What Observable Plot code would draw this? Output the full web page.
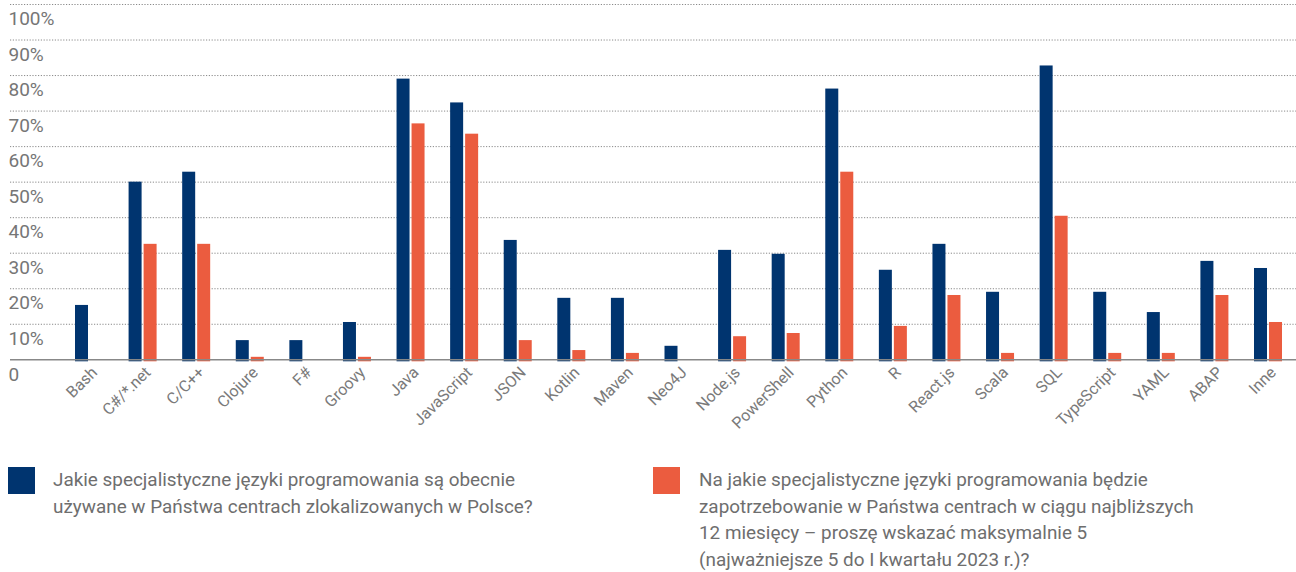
<!DOCTYPE html>
<html>
<head>
<meta charset="utf-8">
<script src="https://cdn.jsdelivr.net/npm/d3@7"></script>
<script src="https://cdn.jsdelivr.net/npm/@observablehq/plot@0.6"></script>
<style>
  html, body { margin: 0; padding: 0; background: #fff; }
  #wrap { position: relative; width: 1296px; height: 572px; font-family: Roboto, "Noto Sans", sans-serif; }
  #chart { position: absolute; left: 0; top: 0; }
  .sw { position: absolute; width: 27px; height: 27px; }
  .lt { position: absolute; font-size: 18.9px; line-height: 26.7px; color: #6e6e6e; white-space: nowrap; }
</style>
</head>
<body>
<div id="wrap">
  <div id="chart"></div>
</div>
<script>
const categories = ["Bash","C#/*.net","C/C++","Clojure","F#","Groovy","Java","JavaScript","JSON","Kotlin","Maven","Neo4J","Node.js","PowerShell","Python","R","React.js","Scala","SQL","TypeScript","YAML","ABAP","Inne"];
const current = [15.3,50.0,52.8,5.4,5.4,10.5,79.0,72.3,33.6,17.3,17.3,3.8,30.8,29.7,76.2,25.2,32.5,19.0,82.7,19.0,13.3,27.7,25.7];
const future  = [0,32.5,32.5,0.7,0,0.7,66.4,63.5,5.4,2.6,1.8,0,6.5,7.4,52.8,9.4,18.1,1.8,40.4,1.8,1.8,18.1,10.5];
const yTicks = [10,20,30,40,50,60,70,80,90,100];
const yTickLabels = ["10%","20%","30%","40%","50%","60%","70%","80%","90%","100%"];
const seriesNames = [
  "Jakie specjalistyczne języki programowania są obecnie<br>używane w Państwa centrach zlokalizowanych w Polsce?",
  "Na jakie specjalistyczne języki programowania będzie<br>zapotrzebowanie w Państwa centrach w ciągu najbliższych<br>12 miesięcy – proszę wskazać maksymalnie 5<br>(najważniejsze 5 do I kwartału 2023 r.)?"
];
const colors = ["#00346F", "#EB5C3F"];

const rowsA = categories.map((c, i) => ({cat: c, v: current[i]}));
const rowsB = categories.map((c, i) => ({cat: c, v: future[i]})).filter(d => d.v > 0);
const tickRows = yTicks.map((t, i) => ({t, label: yTickLabels[i]}));

const chart = Plot.plot({
  width: 1296,
  height: 440,
  marginLeft: 10,
  marginRight: 0,
  marginTop: 4,
  marginBottom: 80.7,
  style: {fontFamily: "Roboto, 'Noto Sans', sans-serif", background: "transparent"},
  x: {domain: categories, range: [75, 1282], paddingInner: 0.4775, paddingOuter: 0, round: false, axis: null},
  y: {domain: [0, 100], axis: null},
  marks: [
    Plot.ruleY(yTicks, {stroke: "#8a8a8a", strokeWidth: 1, strokeDasharray: "1.2,1.6"}),
    Plot.text(tickRows, {y: "t", text: "label", frameAnchor: "left", dx: -2, dy: 14.5, textAnchor: "start", fontSize: 19, fill: "#767676"}),
    Plot.text(["0"], {y: () => 0, text: d => d, frameAnchor: "left", dx: -2, dy: 15, textAnchor: "start", fontSize: 19, fill: "#767676"}),
    Plot.barY(rowsA, {x: "cat", y: "v", fill: colors[0], insetRight: 15, insetBottom: -2}),
    Plot.barY(rowsB, {x: "cat", y: "v", fill: colors[1], insetLeft: 15, insetBottom: -2}),
    Plot.ruleY([0], {stroke: "#888", strokeWidth: 1.5}),
    Plot.text(categories, {x: d => d, text: d => d, frameAnchor: "bottom", rotate: -45, textAnchor: "end", lineAnchor: "middle", dx: 5, dy: 10, fontSize: 16, fill: "#7a7a7a"})
  ]
});
document.getElementById("chart").appendChild(chart);

const wrap = document.getElementById("wrap");
const legendPos = [{sx: 8, tx: 53}, {sx: 653, tx: 699}];
seriesNames.forEach((name, i) => {
  const sw = document.createElement("div");
  sw.className = "sw";
  sw.style.left = legendPos[i].sx + "px";
  sw.style.top = "467px";
  sw.style.background = colors[i];
  wrap.appendChild(sw);
  const lt = document.createElement("div");
  lt.className = "lt";
  lt.style.left = legendPos[i].tx + "px";
  lt.style.top = "467px";
  lt.innerHTML = name;
  wrap.appendChild(lt);
});
</script>
</body>
</html>
